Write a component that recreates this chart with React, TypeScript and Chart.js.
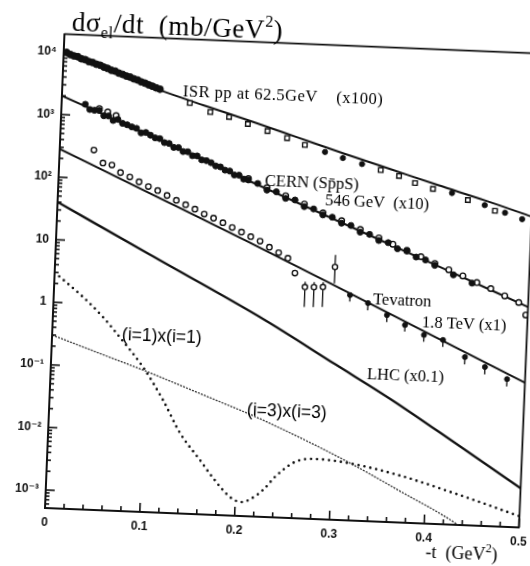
import { useEffect, useRef } from "react";
import { Chart, registerables } from "chart.js";
Chart.register(...registerables);

// ---------- axes ----------
const X_MIN = 0;
const X_MAX = 0.5;
const Y_MIN = 5.16e-4;
const Y_MAX = 1.94e4;
const X_TICKS = [0, 0.1, 0.2, 0.3, 0.4, 0.5];
const X_TICK_LABELS = ["0", "0.1", "0.2", "0.3", "0.4", "0.5"];
const Y_TICKS = [1e-3, 1e-2, 1e-1, 1, 10, 100, 1000, 10000];
const Y_TICK_LABELS = ["10⁻³", "10⁻²", "10⁻¹", "1", "10", "10²", "10³", "10⁴"];

// ---------- ISR pp 62.5 GeV (x100) ----------
const ISR_LINE_T = [0, 0.05, 0.1, 0.15, 0.2, 0.25, 0.3, 0.35, 0.4, 0.45, 0.5];
const ISR_LINE_V = [10230, 5370, 2950, 1740, 1047, 617, 363, 219, 132, 81, 47.9];
const ISR_BAND_T = [0.003, 0.007, 0.011, 0.015, 0.019, 0.023, 0.027, 0.031, 0.035, 0.039, 0.043, 0.047, 0.051, 0.055, 0.059, 0.063, 0.067, 0.071, 0.075, 0.079, 0.083, 0.087, 0.091, 0.095, 0.099, 0.103];
const ISR_BAND_V = [9900, 9200, 8800, 8600, 8000, 7800, 7300, 7100, 6700, 6500, 6100, 5850, 5500, 5350, 5000, 4800, 4550, 4400, 4150, 4000, 3750, 3600, 3400, 3250, 3080, 2950];
const ISR_SQ_T = [0.135, 0.157, 0.177, 0.197, 0.218, 0.239, 0.258, 0.339, 0.3585, 0.3756, 0.3948, 0.432, 0.461];
const ISR_SQ_V = [1860, 1375, 1178, 938, 746, 594, 473, 211, 174, 138, 114, 80, 56];
const ISR_DOT_T = [0.2795, 0.2986, 0.319, 0.415, 0.45, 0.4717, 0.49];
const ISR_DOT_V = [377, 310, 256, 101, 68, 53, 43];

// ---------- CERN SppS 546 GeV (x10) ----------
const CERN_LINE_T = [0, 0.1, 0.2, 0.3, 0.4, 0.5];
const CERN_LINE_V = [1995, 490, 117.5, 28.8, 7.08, 1.72];
const CERN_FILL_T = [0.025, 0.03, 0.035, 0.04, 0.045, 0.05, 0.055, 0.06, 0.065, 0.07, 0.075, 0.08, 0.085, 0.09, 0.095, 0.1, 0.105, 0.11, 0.115, 0.12, 0.125, 0.13, 0.135, 0.14, 0.145, 0.15, 0.155, 0.16, 0.165, 0.17, 0.175, 0.18, 0.185, 0.19, 0.195, 0.2, 0.21, 0.22, 0.23, 0.24, 0.25, 0.26, 0.27, 0.28, 0.29, 0.3, 0.31, 0.32, 0.33, 0.34, 0.35, 0.36, 0.37, 0.38, 0.39, 0.4, 0.42, 0.44];
const CERN_FILL_V = [1514, 1259, 1230, 1230, 1023, 1023, 871, 912, 794, 759, 708, 676, 575, 589, 537, 490, 479, 417, 407, 355, 355, 309, 309, 269, 269, 234, 229, 214, 191, 186, 166, 162, 141, 141, 123, 120, 107, 85, 81, 64.6, 61.7, 49, 45.7, 37.2, 34.7, 28.2, 26.3, 20.9, 19.5, 15.8, 14.8, 12.0, 11.2, 9.1, 8.3, 6.9, 5.0, 3.8];
const CERN_OPEN_T = [0.04, 0.049, 0.058, 0.2, 0.22, 0.24, 0.26, 0.28, 0.3, 0.32, 0.34, 0.355, 0.37, 0.385, 0.4, 0.415, 0.43, 0.445, 0.46, 0.475, 0.49, 0.498];
const CERN_OPEN_V = [1320, 1175, 1047, 126, 93, 71, 54, 40, 31, 23, 17.4, 14.1, 11.5, 9.3, 7.4, 6.0, 4.9, 3.9, 3.2, 2.5, 2.0, 1.28];

// ---------- Tevatron 1.8 TeV (x1) ----------
const TEV_LINE_T = [0, 0.1, 0.2, 0.3, 0.4, 0.5];
const TEV_LINE_V = [282, 60.3, 12.9, 2.63, 0.525, 0.106];
const TEV_OPEN_T = [0.036, 0.0462, 0.0557, 0.065, 0.075, 0.085, 0.095, 0.105, 0.115, 0.125, 0.135, 0.145, 0.155, 0.165, 0.175, 0.185, 0.195, 0.205, 0.215, 0.225, 0.235, 0.245, 0.253];
const TEV_OPEN_V = [286, 180, 169, 130, 112, 95, 81, 71, 60, 51, 44, 38, 32, 28, 24, 20.4, 17.6, 15, 12.9, 10.5, 8.7, 7.2, 4.2];
const TEV_ERR_T = [0.2642, 0.2737, 0.2832, 0.295];
const TEV_ERR_V = [2.56, 2.59, 2.63, 5.6];
const TEV_ERR_LO = [1.23, 1.24, 1.26, 3.06];
const TEV_ERR_HI = [3.1, 3.1, 3.15, 8.7];
const TEV_FILL_T = [0.312, 0.3313, 0.3518, 0.3712, 0.3916, 0.4119, 0.4357, 0.4572, 0.481];
const TEV_FILL_V = [2.04, 1.56, 1.035, 0.738, 0.526, 0.451, 0.249, 0.178, 0.118];
const TEV_FILL_LO = [1.6, 1.2, 0.8, 0.58, 0.41, 0.35, 0.19, 0.135, 0.09];

// ---------- LHC (x0.1) ----------
const LHC_T = [0, 0.1, 0.2235, 0.3, 0.3608, 0.43, 0.5];
const LHC_V = [40, 6.6, 0.716, 0.155, 0.0459, 0.0102, 0.00218];

// ---------- (i=1)x(i=1) ----------
const I1_T = [0, 0.0309, 0.0528, 0.0738, 0.0971, 0.1196, 0.139, 0.161, 0.1757, 0.1943, 0.206, 0.2227, 0.2308, 0.2408, 0.2613, 0.2822, 0.3171, 0.37, 0.4418, 0.5];
const I1_V = [3.0, 1.27, 0.627, 0.278, 0.106, 0.0325, 0.0099, 0.00381, 0.002, 0.00102, 0.000863, 0.00115, 0.0015, 0.00228, 0.00409, 0.0047, 0.00426, 0.00296, 0.00146, 0.00078];

// ---------- (i=3)x(i=3) ----------
const I3_T = [0, 0.05, 0.0972, 0.16, 0.2279, 0.317, 0.371, 0.4357, 0.45];
const I3_V = [0.3, 0.166, 0.095, 0.0427, 0.01754, 0.00442, 0.0017, 0.000514, 0.000355];

// ---------- in-plot labels ----------
const LABELS = ["ISR pp at 62.5GeV    (x100)", "CERN (Sp\u0304pS)", "546 GeV  (x10)", "Tevatron", "1.8 TeV (x1)", "LHC (x0.1)", "(i=1)x(i=1)", "(i=3)x(i=3)"];
const LABEL_T = [0.1273, 0.2175, 0.2816, 0.3364, 0.389, 0.3333, 0.0736, 0.2085];
const LABEL_V = [2754, 118, 62.1, 1.754, 0.815, 0.111, 0.334, 0.0256];

const zip = (t: number[], v: number[]) => t.map((x, i) => ({ x, y: v[i] }));

const INK = "#111";
const SERIF = '"Liberation Serif", "DejaVu Serif", serif';
const SANS = '"Liberation Sans", "DejaVu Sans", sans-serif';

const decor = {
  id: "decor",
  beforeDatasetsDraw(chart: any) {
    const { ctx, scales } = chart;
    const x = scales.x, y = scales.y;
    ctx.save();
    ctx.strokeStyle = INK;
    ctx.lineWidth = 1.3;
    const bars = (T: number[], lo: number[], hi: number[] | null, V: number[]) => {
      T.forEach((t, i) => {
        const px = x.getPixelForValue(t);
        ctx.beginPath();
        ctx.moveTo(px, y.getPixelForValue(lo[i]));
        ctx.lineTo(px, y.getPixelForValue(hi ? hi[i] : V[i]));
        ctx.stroke();
      });
    };
    bars(TEV_ERR_T, TEV_ERR_LO, TEV_ERR_HI, TEV_ERR_V);
    bars(TEV_FILL_T, TEV_FILL_LO, null, TEV_FILL_V);
    ctx.restore();
  },
  afterDraw(chart: any) {
    const { ctx, chartArea, scales } = chart;
    const { left, right, top, bottom } = chartArea;
    const x = scales.x, y = scales.y;
    ctx.save();
    ctx.strokeStyle = INK;
    // frame top / right
    ctx.lineWidth = 1.8;
    ctx.beginPath();
    ctx.moveTo(left, top);
    ctx.lineTo(right, top);
    ctx.lineTo(right, bottom);
    ctx.stroke();
    // x ticks (inward)
    ctx.lineWidth = 1.6;
    for (let i = 0; i <= 25; i++) {
      const px = x.getPixelForValue(i * 0.02);
      const len = i % 5 === 0 ? 9 : 5;
      ctx.beginPath();
      ctx.moveTo(px, bottom);
      ctx.lineTo(px, bottom - len);
      ctx.stroke();
    }
    // y ticks (inward)
    for (let d = -4; d <= 4; d++) {
      for (let k = 1; k <= 9; k++) {
        const v = k * Math.pow(10, d);
        if (v < Y_MIN || v > Y_MAX) continue;
        const py = y.getPixelForValue(v);
        const len = k === 1 ? 9 : 4;
        ctx.beginPath();
        ctx.moveTo(left, py);
        ctx.lineTo(left + len, py);
        ctx.stroke();
      }
    }
    // in-plot labels
    ctx.fillStyle = "#000";
    ctx.textBaseline = "middle";
    ctx.textAlign = "left";
    LABELS.forEach((s, i) => {
      ctx.font = i >= 6 ? `17.5px ${SANS}` : `16.5px ${SERIF}`;
      (ctx as any).letterSpacing = i === 0 ? "0.5px" : "0px";
      ctx.fillText(s, x.getPixelForValue(LABEL_T[i]), y.getPixelForValue(LABEL_V[i]));
    });
    (ctx as any).letterSpacing = "0.6px";
    // y title
    ctx.textBaseline = "alphabetic";
    let tx = 52;
    const ty = 29.5;
    const part = (s: string, size: number, dy: number) => {
      ctx.font = `${size}px ${SERIF}`;
      ctx.fillText(s, tx, ty + dy);
      tx += ctx.measureText(s).width;
    };
    part("dσ", 27, 0);
    part("el", 16, 6);
    part("/dt  (mb/GeV", 27, 0);
    part("2", 16, -12);
    part(")", 27, 0);
    (ctx as any).letterSpacing = "0px";
    // x title
    tx = 427;
    const by = 542;
    ctx.font = `18px ${SERIF}`;
    ctx.fillText("-t  (GeV", tx, by);
    tx += ctx.measureText("-t  (GeV").width;
    ctx.font = `12px ${SERIF}`;
    ctx.fillText("2", tx, by - 8);
    tx += ctx.measureText("2").width;
    ctx.font = `18px ${SERIF}`;
    ctx.fillText(")", tx, by);
    ctx.restore();
  },
};

export default function App() {
  const ref = useRef<HTMLCanvasElement>(null);
  useEffect(() => {
    const filled = { pointStyle: "circle", backgroundColor: INK, borderColor: INK, borderWidth: 1, showLine: false };
    const open = { pointStyle: "circle", backgroundColor: "#fff", borderColor: INK, borderWidth: 1.4, showLine: false };
    const line = { showLine: true, pointRadius: 0, borderColor: INK, borderWidth: 2, cubicInterpolationMode: "monotone", fill: false };
    const chart = new Chart(ref.current as HTMLCanvasElement, {
      type: "scatter",
      data: {
        datasets: [
          { label: "ISR band", data: zip(ISR_BAND_T, ISR_BAND_V), ...filled, pointRadius: 3.4 },
          { label: "ISR squares", data: zip(ISR_SQ_T, ISR_SQ_V), ...open, pointStyle: "rect", pointRadius: 3.2 },
          { label: "ISR filled", data: zip(ISR_DOT_T, ISR_DOT_V), ...filled, pointRadius: 2.6 },
          { label: "CERN filled", data: zip(CERN_FILL_T, CERN_FILL_V), ...filled, pointRadius: 3 },
          { label: "CERN open", data: zip(CERN_OPEN_T, CERN_OPEN_V), ...open, pointRadius: 2.8 },
          { label: "Tevatron open", data: zip(TEV_OPEN_T, TEV_OPEN_V), ...open, pointRadius: 2.7 },
          { label: "Tevatron err", data: zip(TEV_ERR_T, TEV_ERR_V), ...open, pointRadius: 2.6 },
          { label: "Tevatron filled", data: zip(TEV_FILL_T, TEV_FILL_V), ...filled, pointRadius: 2.5 },
          { label: "ISR pp 62.5 GeV (x100)", data: zip(ISR_LINE_T, ISR_LINE_V), ...line },
          { label: "CERN SppS 546 GeV (x10)", data: zip(CERN_LINE_T, CERN_LINE_V), ...line },
          { label: "Tevatron 1.8 TeV (x1)", data: zip(TEV_LINE_T, TEV_LINE_V), ...line },
          { label: "LHC (x0.1)", data: zip(LHC_T, LHC_V), ...line, borderWidth: 2.3 },
          { label: "(i=1)x(i=1)", data: zip(I1_T, I1_V), ...line, borderWidth: 2.6, borderDash: [0, 6], borderCapStyle: "round" },
          { label: "(i=3)x(i=3)", data: zip(I3_T, I3_V), ...line, borderWidth: 1.3, borderColor: "#333", borderDash: [2, 1.2] },
        ] as any,
      },
      options: {
        responsive: false,
        animation: false,
        devicePixelRatio: 1,
        layout: { padding: { top: 33.6, right: 10.6, left: 0, bottom: 0 } },
        plugins: { legend: { display: false }, tooltip: { enabled: false } },
        scales: {
          x: {
            type: "linear",
            min: X_MIN,
            max: X_MAX,
            afterBuildTicks: (s: any) => { s.ticks = X_TICKS.map((value) => ({ value })); },
            afterFit: (s: any) => { s.height = 58; },
            grid: { display: false },
            border: { display: true, color: INK, width: 2 },
            ticks: {
              autoSkip: false,
              maxRotation: 0,
              padding: -1,
              color: INK,
              font: { family: SANS, size: 12, weight: "bold" },
              callback: (_v: any, i: number) => X_TICK_LABELS[i],
            },
          },
          y: {
            type: "logarithmic",
            min: Y_MIN,
            max: Y_MAX,
            afterBuildTicks: (s: any) => { s.ticks = Y_TICKS.map((value) => ({ value })); },
            afterFit: (s: any) => { s.width = 45; },
            grid: { display: false },
            border: { display: true, color: INK, width: 2 },
            ticks: {
              autoSkip: false,
              padding: -1,
              color: INK,
              font: { family: SANS, size: 12, weight: "bold" },
              callback: (_v: any, i: number) => Y_TICK_LABELS[i],
            },
          },
        },
      } as any,
      plugins: [decor],
    });
    return () => chart.destroy();
  }, []);
  return (
    <div style={{ position: "fixed", left: 0, top: 0, width: 530, height: 566, overflow: "hidden", background: "#fff" }}>
      <canvas
        ref={ref}
        width={530}
        height={566}
        style={{ position: "absolute", left: 0, top: 0, width: 530, height: 566, transform: "rotate(2.35deg)", transformOrigin: "45px 508px" }}
      />
    </div>
  );
}
